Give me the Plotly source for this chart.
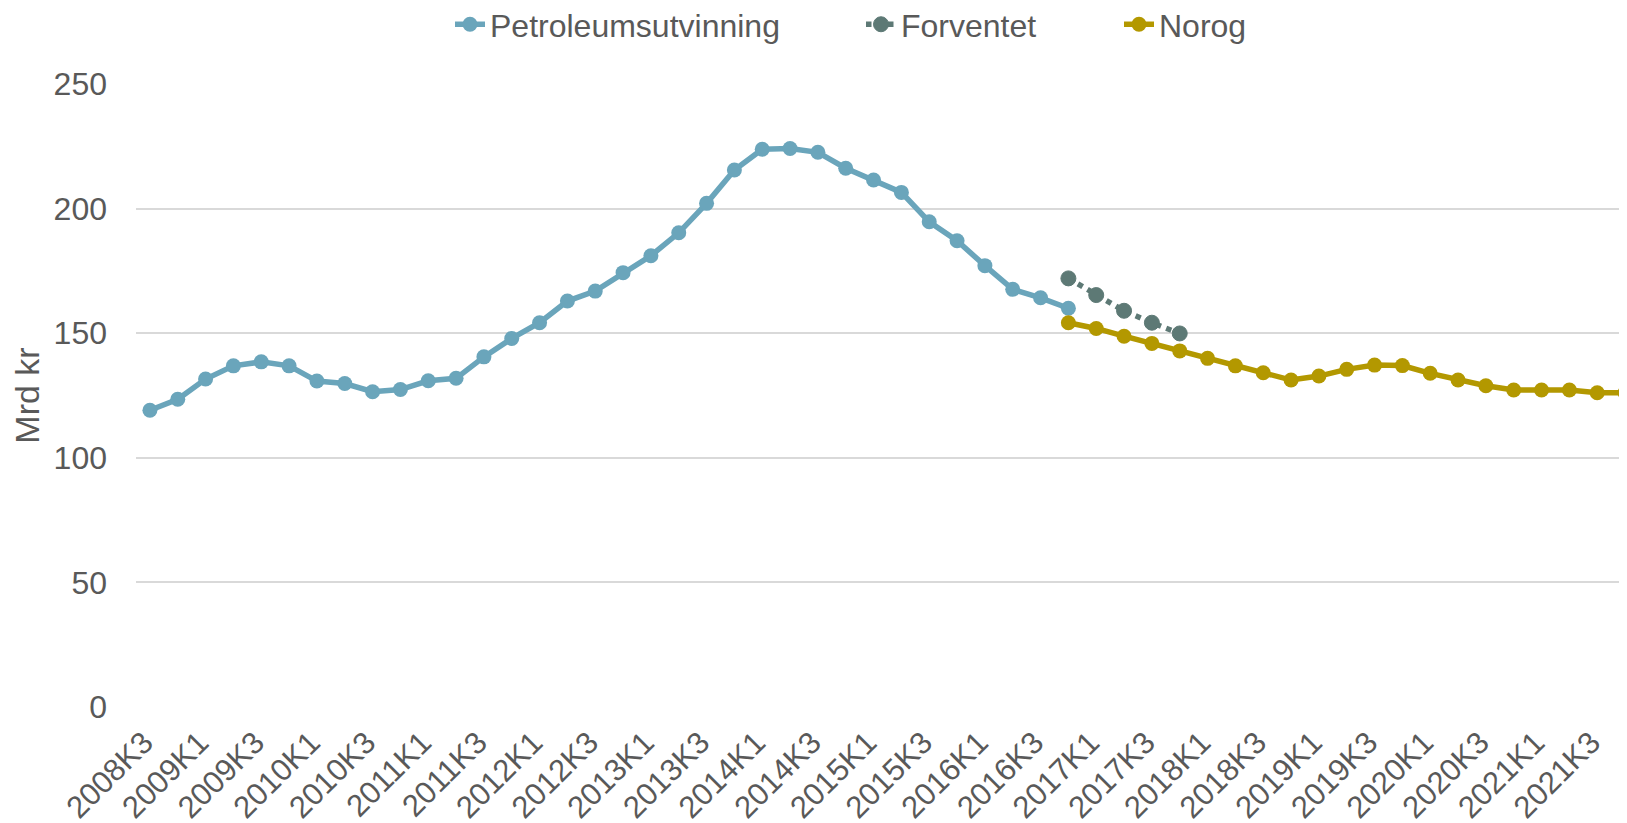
import plotly.graph_objects as go

# Categories: quarters 2008K3 .. 2021K4
categories = []
for year in range(2008, 2022):
    for q in range(1, 5):
        lab = f"{year}K{q}"
        if year == 2008 and q < 3:
            continue
        categories.append(lab)

petroleum_values = [119.1, 123.5, 131.6, 136.9, 138.5, 136.9, 130.8, 129.8, 126.5, 127.4,
                    130.9, 131.9, 140.5, 147.9, 154.2, 162.9, 166.9, 174.3, 181.1, 190.3,
                    202.1, 215.5, 223.8, 224.1, 222.6, 216.2, 211.5, 206.5, 194.7, 187.1,
                    177.1, 167.6, 164.2, 160.0]
forventet_values = [172.0, 165.3, 159.0, 154.2, 149.9]
norog_values = [154.2, 151.9, 148.8, 145.9, 142.9, 139.9, 136.9, 134.1, 131.2, 132.8,
                135.5, 137.2, 137.0, 133.9, 131.2, 128.9, 127.2, 127.2, 127.2, 126.1, 126.1]

petroleum_x = categories[:len(petroleum_values)]
forventet_x = categories[33:33 + len(forventet_values)]
norog_x = categories[33:33 + len(norog_values)]
tick_labels = categories[::2]

FONT = "Liberation Sans, Arial, sans-serif"
TXT = "#595959"

fig = go.Figure()
fig.add_trace(go.Scatter(
    x=petroleum_x, y=petroleum_values, name="Petroleumsutvinning",
    mode="lines+markers", legend="legend",
    line=dict(color="#6aa5bb", width=5.5),
    marker=dict(color="#6aa5bb", size=15),
))
fig.add_trace(go.Scatter(
    x=forventet_x, y=forventet_values, name="Forventet",
    mode="lines+markers", legend="legend2",
    line=dict(color="#5d7975", width=5.5, dash="dot"),
    marker=dict(color="#5d7975", size=15, line=dict(color="#5d7975", width=1)),
))
fig.add_trace(go.Scatter(
    x=norog_x, y=norog_values, name="Norog",
    mode="lines+markers", legend="legend3",
    line=dict(color="#b39800", width=5.5),
    marker=dict(color="#b39800", size=15),
))

def leg(x):
    return dict(orientation="h", xref="container", x=x, xanchor="left",
                yref="container", y=0.98, yanchor="middle",
                font=dict(size=32, color=TXT), bgcolor="rgba(0,0,0,0)")

fig.update_layout(
    width=1627, height=823,
    margin=dict(l=128, r=8, t=76, b=124, autoexpand=False),
    paper_bgcolor="white", plot_bgcolor="white",
    font=dict(family=FONT, size=31, color=TXT),
    showlegend=True,
    legend=leg(442 / 1627),
    legend2=leg(853 / 1627),
    legend3=leg(1111 / 1627),
)
fig.update_xaxes(
    type="category", categoryorder="array", categoryarray=categories,
    range=[-0.5, 53.07],
    tickmode="array", tickvals=tick_labels, ticktext=tick_labels,
    tickangle=-45, showgrid=False, showline=False, zeroline=False,
    tickfont=dict(size=31, color=TXT), ticks="", ticklabelstandoff=10,
    ticklabelshift=-6,
)
fig.update_yaxes(
    range=[0, 250], tickvals=[0, 50, 100, 150, 200, 250],
    showgrid=True, gridcolor="#d9d9d9", gridwidth=2,
    zeroline=False, showline=False, ticks="",
    tickfont=dict(size=32, color=TXT), ticklabelstandoff=28,
    title=dict(text="Mrd kr", font=dict(size=34, color=TXT), standoff=12),
)

fig.write_html("out.html")
